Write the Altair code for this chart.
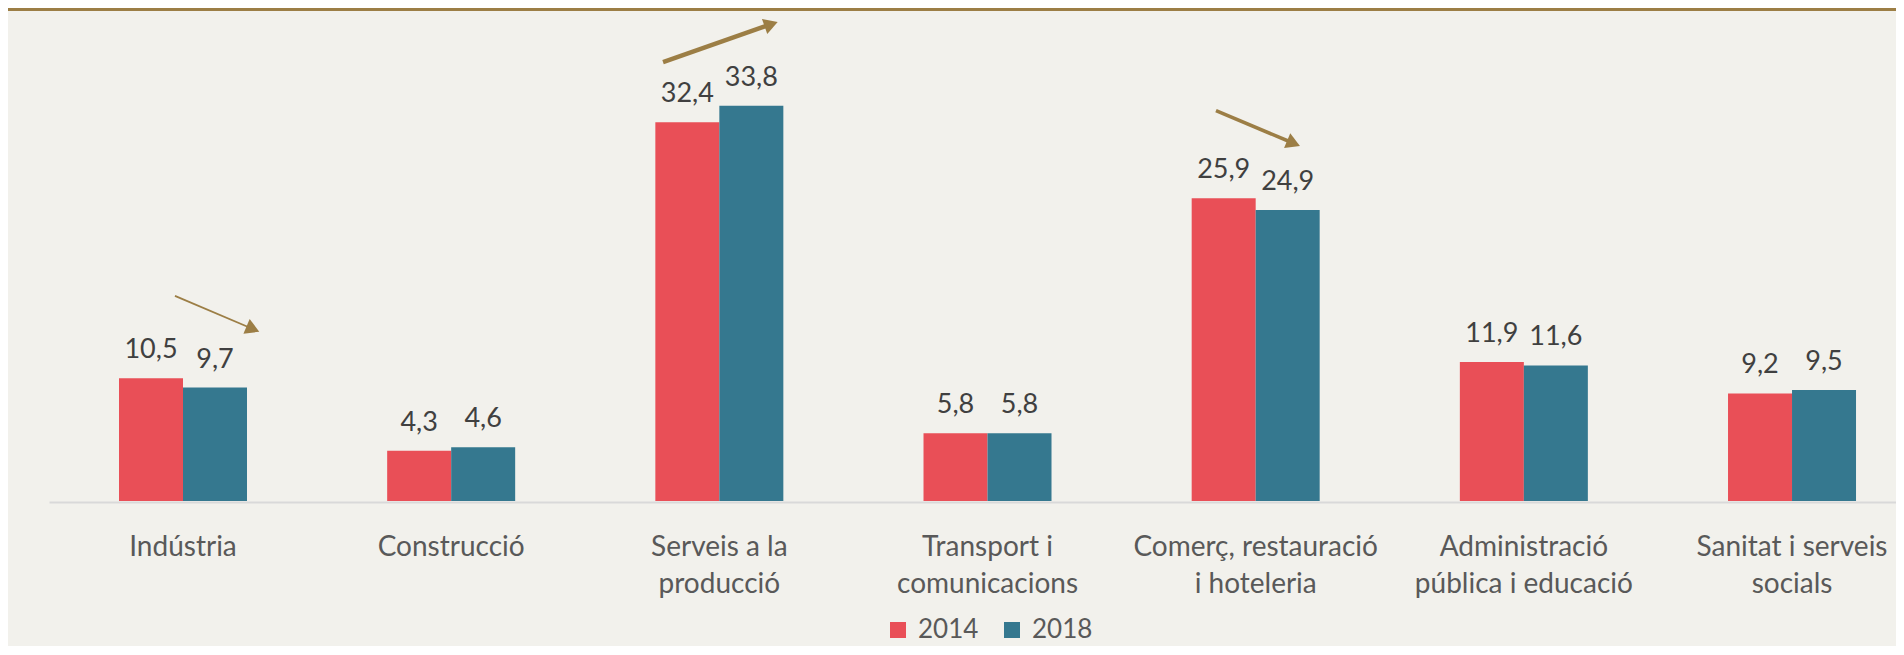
import math
import altair as alt
import pandas as pd

# ---------------- data ----------------
CATEGORIES = [
    "Indústria",
    "Construcció",
    "Serveis a la\nproducció",
    "Transport i\ncomunicacions",
    "Comerç, restauració\ni hoteleria",
    "Administració\npública i educació",
    "Sanitat i serveis\nsocials",
]
YEARS = ["2014", "2018"]
VALUES_2014 = [10.5, 4.3, 32.4, 5.8, 25.9, 11.9, 9.2]
VALUES_2018 = [9.7, 4.6, 33.8, 5.8, 24.9, 11.6, 9.5]

# trend arrows: x in category-index units (0 = centre of first group), y in data units
ARROW_X0 = [-0.03, 1.79, 3.852]
ARROW_X1 = [0.2845, 2.2176, 4.165]
ARROW_Y0 = [17.54, 37.55, 33.39]
ARROW_Y1 = [14.48, 40.98, 30.37]

# ---------------- style / layout ----------------
RED = "#E94F57"
TEAL = "#35788F"
GOLD = "#9C7E45"
BG = "#F2F1EC"
FONT = "Lato"

W = 1847          # plot width
H = 491           # plot height
STEP = 268.17     # category step (px)
GROUP = 128       # width of a bar pair (px)
FIRST = 70        # left edge of first group (px)
N = len(CATEGORIES)
YMAX = 42

P_IN = 1 - GROUP / STEP
P_OUT = (W / STEP - N + P_IN) / 2
ALIGN = FIRST / (W - STEP * (N - P_IN))
PXY = H / YMAX
C0 = FIRST + GROUP / 2
ARROW_DOMAIN = [-C0 / STEP, (W - C0) / STEP]
ARROW_WIDTHS = [1.8, 4.5, 3.6]
HEAD_SIZE = 256
HEAD_H = math.sqrt(3) * (math.sqrt(HEAD_SIZE) / 2) / 2

# ---------------- tables ----------------
rows = []
for c, v1, v2 in zip(CATEGORIES, VALUES_2014, VALUES_2018):
    for y, v in zip(YEARS, (v1, v2)):
        rows.append({"cat": c, "year": y, "value": v,
                     "label": f"{v:.1f}".replace(".", ",")})
bars_df = pd.DataFrame(rows)

arr = []
for x0, x1, y0, y1, w in zip(ARROW_X0, ARROW_X1, ARROW_Y0, ARROW_Y1, ARROW_WIDTHS):
    dx = (x1 - x0) * STEP
    dy = -(y1 - y0) * PXY
    L = math.hypot(dx, dy)
    ux, uy = dx / L, dy / L
    hx = x1 - HEAD_H * ux / STEP
    hy = y1 + HEAD_H * uy / PXY
    ang = math.degrees(math.atan2(ux, -uy)) % 360
    arr.append({"x0": x0, "y0": y0, "hx": hx, "hy": hy, "ang": ang, "w": w})
arrows_df = pd.DataFrame(arr)

yscale = alt.Scale(domain=[0, YMAX], nice=False, zero=True)
xscale = alt.Scale(paddingInner=P_IN, paddingOuter=P_OUT, align=ALIGN)
xoff_scale = alt.Scale(paddingInner=0, paddingOuter=0)
ascale = alt.Scale(domain=ARROW_DOMAIN, nice=False, zero=False)

bars = alt.Chart(bars_df).mark_bar().encode(
    x=alt.X("cat:N", sort=CATEGORIES, scale=xscale,
            axis=alt.Axis(title=None, ticks=False, tickSize=0, domain=True,
                          domainColor="#D9D9D9", domainWidth=2, offset=1,
                          labelFont=FONT, labelFontSize=28, labelColor="#595959",
                          labelPadding=53, labelBaseline="alphabetic",
                          labelLineHeight=37, labelLimit=600, labelOverlap=False,
                          labelAngle=0,
                          labelExpr="split(datum.label, '\\n')")),
    xOffset=alt.XOffset("year:N", sort=YEARS, scale=xoff_scale),
    y=alt.Y("value:Q", scale=yscale, axis=None),
    color=alt.Color("year:N", sort=YEARS,
                    scale=alt.Scale(domain=YEARS, range=[RED, TEAL]),
                    legend=alt.Legend(title=None, orient="none", direction="horizontal",
                                      legendX=836, legendY=607,
                                      symbolType="square", symbolSize=256,
                                      symbolStrokeWidth=0, symbolOpacity=1,
                                      labelFont=FONT, labelFontSize=26,
                                      labelColor="#595959", labelOffset=7,
                                      columnPadding=20)),
)

labels = alt.Chart(bars_df).mark_text(
    font=FONT, fontSize=27, color="#404040", baseline="alphabetic",
    align="center", dy=-20
).encode(
    x=alt.X("cat:N", sort=CATEGORIES, scale=xscale, axis=None),
    xOffset=alt.XOffset("year:N", sort=YEARS, scale=xoff_scale),
    y=alt.Y("value:Q", scale=yscale, axis=None),
    text="label:N",
)

arrow_lines = alt.Chart(arrows_df).mark_rule(color=GOLD).encode(
    x=alt.X("x0:Q", scale=ascale, axis=None),
    x2="hx:Q",
    y=alt.Y("y0:Q", scale=yscale, axis=None),
    y2="hy:Q",
    strokeWidth=alt.StrokeWidth("w:Q", scale=None),
)

arrow_heads = alt.Chart(arrows_df).mark_point(
    shape="triangle-up", filled=True, size=HEAD_SIZE, color=GOLD, opacity=1
).encode(
    x=alt.X("hx:Q", scale=ascale, axis=None),
    y=alt.Y("hy:Q", scale=yscale, axis=None),
    angle=alt.Angle("ang:Q", scale=None),
)

top_line = alt.Chart(pd.DataFrame({"a": [0]})).mark_rule(
    color=GOLD, strokeWidth=3
).encode(
    x=alt.value(-41), x2=alt.value(W), y=alt.value(-0.5)
)

chart = alt.layer(bars, labels, arrow_lines, arrow_heads, top_line).resolve_scale(
    x="independent"
).properties(
    width=W, height=H,
    background=BG,
    padding={"left": 41, "top": 2, "right": 0, "bottom": 145},
    autosize=alt.AutoSizeParams(type="none"),
).configure_view(stroke=None)

chart.save("out.html", embed_options={"renderer": "svg", "actions": False})
